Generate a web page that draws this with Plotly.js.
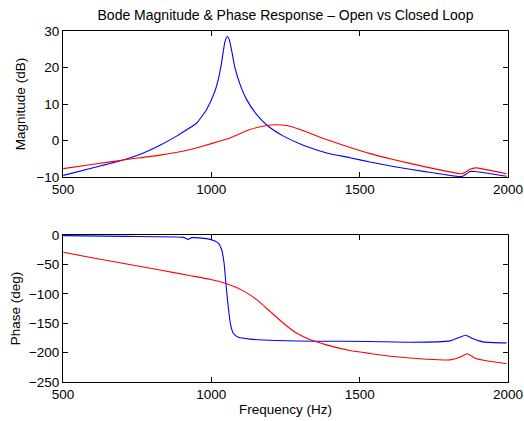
<!DOCTYPE html>
<html>
<head>
<meta charset="utf-8">
<script src="https://cdn.plot.ly/plotly-3.0.1.min.js"></script>
<style>html,body{margin:0;padding:0;background:#fff;}#chart{width:524px;height:421px;}</style>
</head>
<body>
<div id="chart"></div>
<script>
// Magnitude (dB) - blue
const magBlueFreq = [501, 602, 709, 771, 827, 883, 922, 951, 984, 1012, 1027, 1035, 1046, 1054, 1061, 1069, 1080, 1097, 1119, 1153, 1192, 1243, 1310, 1389, 1467, 1535, 1613, 1726, 1838, 1847, 1872, 1889, 1995];
const magBlue     = [-9.55, -7.45, -5.2, -3.4, -1.3, 1.2, 3.2, 4.8, 8.5, 13.5, 18.0, 21.6, 27.1, 28.5, 27.5, 24.4, 19.8, 15.3, 11.2, 7.1, 3.9, 1.2, -1.3, -3.4, -4.7, -5.9, -7.1, -8.6, -9.9, -9.8, -8.5, -8.5, -9.8];
// Magnitude (dB) - red
const magRedFreq = [501, 602, 715, 827, 922, 973, 1027, 1063, 1130, 1186, 1220, 1254, 1299, 1366, 1445, 1535, 1613, 1726, 1838, 1849, 1872, 1889, 1995];
const magRed     = [-7.7, -6.5, -5.2, -4.0, -2.6, -1.5, -0.2, 0.7, 3.0, 4.1, 4.3, 4.1, 3.0, 0.9, -1.3, -3.6, -5.2, -7.3, -9.1, -9.0, -7.9, -7.5, -9.1];
// Phase (deg) - blue
const phBlueFreq = [501, 715, 906, 922, 934, 984, 1012, 1024, 1035, 1043, 1049, 1057, 1065, 1074, 1091, 1130, 1220, 1355, 1535, 1670, 1805, 1838, 1858, 1878, 1917, 1995];
const phBlue     = [-1.1, -2.3, -4.0, -7.4, -4.5, -6.2, -10.2, -14, -25.5, -48, -82, -122, -153, -167, -174, -177, -179.5, -180.6, -181, -182.3, -180, -173.8, -170.4, -175.5, -181.8, -183.5];
// Phase (deg) - red
const phRedFreq = [501, 602, 715, 827, 922, 995, 1052, 1108, 1153, 1198, 1243, 1288, 1344, 1400, 1467, 1535, 1613, 1726, 1805, 1838, 1863, 1889, 1928, 1995];
const phRed     = [-29.4, -39, -49.3, -59.5, -68.5, -75.3, -83, -95, -110, -130, -150, -167, -180, -188.6, -196.5, -201.5, -206.7, -211.2, -212.3, -207.8, -202, -209.5, -214, -219];

const xTicks = [500, 1000, 1500, 2000];
const magTicks = [-10, 0, 10, 20, 30];
const phTicks = [-250, -200, -150, -100, -50, 0];

const font = {family: 'Liberation Sans, Arial, Helvetica, sans-serif', color: '#000'};
const lineB = {color: '#0000ff', width: 1.1, shape: 'spline', smoothing: 0.5};
const lineR = {color: '#ff0000', width: 1.1, shape: 'spline', smoothing: 0.5};

const traces = [
  {x: magBlueFreq, y: magBlue, xaxis: 'x', yaxis: 'y', mode: 'lines', line: lineB},
  {x: magRedFreq, y: magRed, xaxis: 'x', yaxis: 'y', mode: 'lines', line: lineR},
  {x: phBlueFreq, y: phBlue, xaxis: 'x2', yaxis: 'y2', mode: 'lines', line: lineB},
  {x: phRedFreq, y: phRed, xaxis: 'x2', yaxis: 'y2', mode: 'lines', line: lineR}
];

const axCommon = {
  showgrid: false, zeroline: false, showline: true, linecolor: '#000', linewidth: 1,
  mirror: 'ticks', ticks: 'inside', ticklen: 5, tickcolor: '#000',
  tickfont: {family: font.family, size: 13.5, color: '#000'}
};

const layout = {
  width: 524, height: 421,
  margin: {l: 63, r: 16, t: 31, b: 39, pad: 0},
  paper_bgcolor: '#fff', plot_bgcolor: '#fff',
  showlegend: false,
  font: font,
  title: {text: 'Bode Magnitude &amp; Phase Response \u2013 Open vs Closed Loop', font: {family: font.family, size: 14, color: '#000'}, xref: 'paper', x: 0.5, xanchor: 'center', y: 0.963, yanchor: 'middle'},
  xaxis: Object.assign({}, axCommon, {range: [500, 2000], tickvals: xTicks, anchor: 'y', domain: [0, 1]}),
  yaxis: Object.assign({}, axCommon, {range: [-10, 30], tickvals: magTicks, domain: [0.584, 1], anchor: 'x',
    title: {text: 'Magnitude (dB)', font: {family: font.family, size: 13.5, color: '#000'}, standoff: 7}}),
  xaxis2: Object.assign({}, axCommon, {range: [500, 2000], tickvals: xTicks, anchor: 'y2', domain: [0, 1],
    title: {text: 'Frequency (Hz)', font: {family: font.family, size: 13.5, color: '#000'}, standoff: 3}}),
  yaxis2: Object.assign({}, axCommon, {range: [-250, 0], tickvals: phTicks, domain: [0, 0.4188], anchor: 'x2',
    title: {text: 'Phase (deg)', font: {family: font.family, size: 13.5, color: '#000'}, standoff: 5}})
};

Plotly.newPlot('chart', traces, layout, {displayModeBar: false, staticPlot: true});
</script>
</body>
</html>
